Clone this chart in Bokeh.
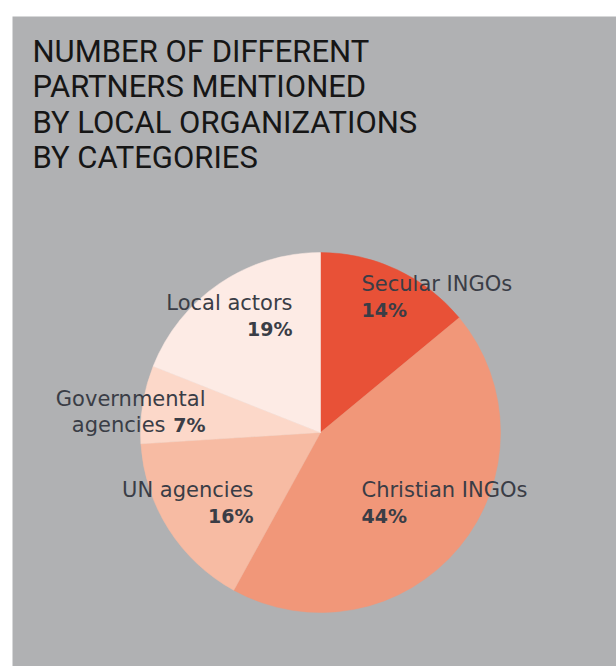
import numpy as np
from bokeh.plotting import figure
from bokeh.models import Range1d, ColumnDataSource
from bokeh.core.properties import value
from bokeh.embed import file_html
from bokeh.resources import INLINE

# ---- data ----
categories = ["Secular INGOs", "Christian INGOs", "UN agencies", "Governmental agencies", "Local actors"]
shares = [14, 44, 16, 7, 19]
colors = ["#E85137", "#F19779", "#F7BBA3", "#FCD8C9", "#FDEBE5"]
title_lines = ["NUMBER OF DIFFERENT", "PARTNERS MENTIONED", "BY LOCAL ORGANIZATIONS", "BY CATEGORIES"]

W, H = 616, 666
def Y(ypx):
    return H - ypx

p = figure(width=W, height=H, output_backend="svg", toolbar_location=None,
           x_range=Range1d(12, W), y_range=Range1d(0, H - 16),
           min_border_left=12, min_border_top=16, min_border_right=0, min_border_bottom=0)
p.axis.visible = False
p.grid.visible = False
p.outline_line_color = None
p.border_fill_color = "white"
p.background_fill_color = "#B0B1B3"

# pie
cx, cy, r = 320, 432, 180
frac = np.array(shares, dtype=float) / sum(shares)
cum = np.concatenate([[0], np.cumsum(frac)])
start = np.pi / 2 - 2 * np.pi * cum[:-1]
end = np.pi / 2 - 2 * np.pi * cum[1:]
src = ColumnDataSource(dict(start=start, end=end, color=colors, cat=categories))
p.wedge(x=cx, y=Y(cy), radius=r, start_angle="start", end_angle="end", direction="clock",
        fill_color="color", line_color="color", line_width=0.5, source=src)

# title
for i, line in enumerate(title_lines):
    p.text(x=[32], y=[Y(51 + 35.3 * i)], text=[line], text_font=value("Roboto"),
           text_font_size="31px", text_color="#161616", text_baseline="middle", text_align="left")

# labels (layout positions)
lab_font = value("DejaVu Sans")
tc = "#3A3D46"
def lab(x, y, t, align, bold=False):
    p.text(x=[x], y=[Y(y)], text=[t], text_font=lab_font,
           text_font_size="19px" if bold else "21px",
           text_color=tc, text_baseline="middle", text_align=align,
           text_font_style="bold" if bold else "normal")

pct = [f"{s}%" for s in shares]
lab(361, 283, categories[0], "left"); lab(361, 309, pct[0], "left", True)
lab(361, 489, categories[1], "left"); lab(361, 515, pct[1], "left", True)
lab(253, 489, categories[2], "right"); lab(253, 515, pct[2], "right", True)
lab(205, 398, "Governmental", "right"); lab(165, 424, "agencies", "right"); lab(205, 424, pct[3], "right", True)
lab(292, 302, categories[4], "right"); lab(292, 328, pct[4], "right", True)

open("out.html", "w").write(file_html(p, INLINE))
